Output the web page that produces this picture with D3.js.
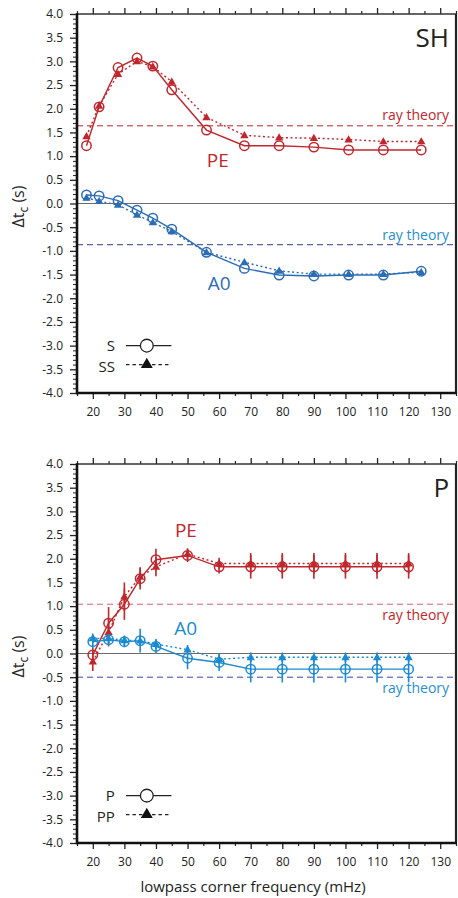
<!DOCTYPE html>
<html><head><meta charset="utf-8">
<script src="https://cdn.jsdelivr.net/npm/d3@7"></script>
<style>
html,body{margin:0;padding:0;background:#fff;}
svg{display:block;font-family:"Open Sans",sans-serif;}
</style></head>
<body>
<svg id="chart" width="458" height="898"></svg>
<script>
// ---------- data ----------
const xMajorTicks = [20,30,40,50,60,70,80,90,100,110,120,130];
const yMajorTicks = [-4,-3.5,-3,-2.5,-2,-1.5,-1,-0.5,0,0.5,1,1.5,2,2.5,3,3.5,4];

// SH panel
const shFreq   = [18,22,28,34,39,45,56,68,79,90,101,112,124];
const shPE_S   = [1.22,2.04,2.87,3.07,2.90,2.40,1.55,1.22,1.22,1.19,1.13,1.13,1.13];
const shPE_SS  = [1.42,2.06,2.73,3.00,2.89,2.57,1.82,1.44,1.39,1.38,1.35,1.31,1.31];
const shA0_S   = [0.18,0.16,0.06,-0.14,-0.31,-0.54,-1.03,-1.37,-1.51,-1.53,-1.51,-1.51,-1.43];
const shA0_SS  = [0.12,0.05,-0.03,-0.24,-0.40,-0.59,-1.03,-1.24,-1.42,-1.49,-1.49,-1.49,-1.45];
const shRayPE = 1.64, shRayA0 = -0.87;

// P panel
const pFreq      = [20,25,30,35,40,50,60,70,80,90,100,110,120];
const pPE_P      = [-0.03,0.64,1.04,1.58,1.98,2.07,1.83,1.83,1.83,1.83,1.83,1.83,1.83];
const pPE_Perr   = [0.15,0.34,0.33,0.23,0.23,0.14,0.14,0.25,0.25,0.25,0.25,0.25,0.25];
const pPE_PP     = [-0.17,0.45,1.20,1.62,1.83,2.10,1.90,1.90,1.90,1.90,1.90,1.90,1.90];
const pPE_PPerr  = [0.2,0.3,0.3,0.2,0.2,0.12,0.12,0.22,0.22,0.22,0.22,0.22,0.22];
const pA0_P      = [0.25,0.29,0.25,0.27,0.15,-0.10,-0.19,-0.33,-0.33,-0.33,-0.33,-0.33,-0.33];
const pA0_Perr   = [0.14,0.10,0.12,0.25,0.15,0.23,0.18,0.28,0.28,0.28,0.28,0.28,0.28];
const pA0_PP     = [0.32,0.32,0.28,0.27,0.20,0.08,-0.12,-0.08,-0.08,-0.08,-0.08,-0.08,-0.08];
const pA0_PPerr  = [0.1,0.1,0.1,0.1,0.1,0.1,0.1,0.1,0.1,0.1,0.1,0.1,0.1];
const pRayPE = 1.04, pRayA0 = -0.50;

// ---------- styling ----------
const RED = "#c0272d", BLUE_SH = "#2b6cb5", BLUE_P = "#1b8ad0", LBLUE = "#1f8fd4";

const svg = d3.select("#chart");
const X0 = 77, X1 = 456, PH = 379;

function drawPanel(top, cfg) {
  const x = d3.scaleLinear().domain([15,135]).range([X0,X1]);
  const y = d3.scaleLinear().domain([-4,4]).range([top+PH, top]);
  const g = svg.append("g");

  // zero line
  g.append("line").attr("x1",X0).attr("x2",X1).attr("y1",y(0)).attr("y2",y(0))
    .attr("stroke","#6d6d6d").attr("stroke-width",1.2);

  // ray theory lines
  cfg.rays.forEach(r => {
    g.append("line").attr("x1",X0).attr("x2",X1).attr("y1",y(r.v)).attr("y2",y(r.v))
      .attr("stroke",r.color).attr("stroke-width",1).attr("stroke-dasharray","6,4");
    g.append("text").attr("x",x(132.8)).attr("y",y(r.labelY)).attr("text-anchor","end")
      .attr("font-size",14).attr("fill",r.labelColor).text("ray theory");
  });

  const line = d3.line().x(d=>x(d[0])).y(d=>y(d[1]));
  const tri = d3.symbol().type(d3.symbolTriangle).size(30);

  cfg.series.forEach(s => {
    const pts = cfg.freq.map((f,i)=>[f,s.vals[i]]);
    g.append("path").datum(pts).attr("d",line).attr("fill","none")
      .attr("stroke",s.color).attr("stroke-width",1.4)
      .attr("stroke-dasharray", s.dotted ? "2,2.6" : null);
    if (s.err) {
      g.selectAll(null).data(pts).join("line")
        .attr("x1",d=>x(d[0])).attr("x2",d=>x(d[0]))
        .attr("y1",(d,i)=>y(d[1]-s.err[i])).attr("y2",(d,i)=>y(d[1]+s.err[i]))
        .attr("stroke",s.color).attr("stroke-width",1.6);
    }
  });
  cfg.series.forEach(s => {
    const pts = cfg.freq.map((f,i)=>[f,s.vals[i]]);
    if (s.dotted) {
      g.selectAll(null).data(pts).join("path").attr("d",tri)
        .attr("transform",d=>`translate(${x(d[0])},${y(d[1])+0.5})`).attr("fill",s.color);
    } else {
      g.selectAll(null).data(pts).join("circle")
        .attr("cx",d=>x(d[0])).attr("cy",d=>y(d[1])).attr("r",4.7)
        .attr("fill","none").attr("stroke",s.color).attr("stroke-width",1.5);
    }
  });

  // axes
  const xMinor = d3.range(15,136,5).filter(v=>v%10!==0);
  const yMinor = d3.range(-40,41,1).map(v=>v/10).filter(v=>Math.abs(v*2-Math.round(v*2))>1e-6);

  g.append("g").attr("transform",`translate(0,${top+PH})`)
    .call(d3.axisBottom(x).tickValues(xMajorTicks).tickSize(6).tickPadding(8).tickFormat(d=>d))
    .call(a=>{a.select(".domain").remove(); a.selectAll("line").attr("stroke","#222").attr("stroke-width",1.3);
      a.selectAll("text").attr("font-size",12).attr("fill","#222").attr("font-family","Open Sans");});
  g.append("g").attr("transform",`translate(0,${top+PH})`)
    .call(d3.axisBottom(x).tickValues(xMinor).tickSize(3).tickFormat(""))
    .call(a=>{a.select(".domain").remove(); a.selectAll("line").attr("stroke","#222").attr("stroke-width",1.2);});
  g.append("g").attr("transform",`translate(0,${top})`)
    .call(d3.axisTop(x).tickValues(xMajorTicks).tickSize(6).tickFormat(""))
    .call(a=>{a.select(".domain").remove(); a.selectAll("line").attr("stroke","#222").attr("stroke-width",1.3);});
  g.append("g").attr("transform",`translate(0,${top})`)
    .call(d3.axisTop(x).tickValues(xMinor).tickSize(3).tickFormat(""))
    .call(a=>{a.select(".domain").remove(); a.selectAll("line").attr("stroke","#222").attr("stroke-width",1.2);});
  g.append("g").attr("transform",`translate(${X0},0)`)
    .call(d3.axisLeft(y).tickValues(yMajorTicks).tickSize(7).tickPadding(7).tickFormat(d=>d.toFixed(1).replace("-0.0","0.0")))
    .call(a=>{a.select(".domain").remove(); a.selectAll("line").attr("stroke","#222").attr("stroke-width",1.3);
      a.selectAll("text").attr("font-size",12).attr("fill","#222").attr("font-family","Open Sans");});
  g.append("g").attr("transform",`translate(${X0},0)`)
    .call(d3.axisLeft(y).tickValues(yMinor).tickSize(4).tickFormat(""))
    .call(a=>{a.select(".domain").remove(); a.selectAll("line").attr("stroke","#222").attr("stroke-width",1);});

  // frame
  g.append("line").attr("x1",X0).attr("x2",X1).attr("y1",top).attr("y2",top).attr("stroke","#333").attr("stroke-width",1.4);
  g.append("line").attr("x1",X1).attr("x2",X1).attr("y1",top).attr("y2",top+PH).attr("stroke","#222").attr("stroke-width",2.2);
  g.append("line").attr("x1",X0).attr("x2",X0).attr("y1",top-0.7).attr("y2",top+PH+1.2).attr("stroke","#111").attr("stroke-width",2.6);
  g.append("line").attr("x1",X0).attr("x2",X1+1).attr("y1",top+PH).attr("y2",top+PH).attr("stroke","#111").attr("stroke-width",2.6);

  // labels
  g.append("text").attr("x",x(132.8)).attr("y",y(3.3)).attr("text-anchor","end")
    .attr("font-size",26).attr("fill","#222").text(cfg.title);
  cfg.labels.forEach(l=>{
    g.append("text").attr("x",x(l.x)).attr("y",y(l.y)).attr("font-size",19)
      .attr("fill",l.color).text(l.text);
  });

  // legend
  const lx1 = x(30.5), lx2 = x(44.9), lm = x(37.1);
  g.append("text").attr("x",x(27)).attr("y",y(-3.12)).attr("text-anchor","end").attr("font-size",15).attr("fill","#222").text(cfg.leg[0]);
  g.append("line").attr("x1",lx1).attr("x2",lx2).attr("y1",y(-3.0)).attr("y2",y(-3.0)).attr("stroke","#222").attr("stroke-width",1.2);
  g.append("circle").attr("cx",lm).attr("cy",y(-3.0)).attr("r",6.4).attr("fill","#fff").attr("stroke","#222").attr("stroke-width",1.3);
  g.append("text").attr("x",x(27)).attr("y",y(-3.55)).attr("text-anchor","end").attr("font-size",15).attr("fill","#222").text(cfg.leg[1]);
  g.append("line").attr("x1",lx1).attr("x2",lx2).attr("y1",y(-3.4)).attr("y2",y(-3.4)).attr("stroke","#222").attr("stroke-width",1.2).attr("stroke-dasharray","3.5,3");
  g.append("path").attr("d",d3.symbol().type(d3.symbolTriangle).size(62)).attr("transform",`translate(${lm},${y(-3.4)})`).attr("fill","#111");

  // y title
  const yt = g.append("text").attr("transform",`translate(24,${top+PH/2+3}) rotate(-90)`)
    .attr("text-anchor","middle").attr("font-size",16).attr("fill","#222");
  yt.append("tspan").text("\u0394t");
  yt.append("tspan").attr("font-size",12).attr("dy",4).text("c");
  yt.append("tspan").attr("dy",-4).text(" (s)");
}

drawPanel(14, {
  title:"SH", freq: shFreq,
  rays:[{v:shRayPE,color:"#b8272d",labelY:1.76,labelColor:RED},
        {v:shRayA0,color:"#2e3e92",labelY:-0.77,labelColor:LBLUE}],
  series:[{vals:shPE_S,color:RED},{vals:shPE_SS,color:RED,dotted:true},
          {vals:shA0_S,color:BLUE_SH},{vals:shA0_SS,color:BLUE_SH,dotted:true}],
  labels:[{text:"PE",x:56.1,y:0.77,color:RED},{text:"A0",x:56.4,y:-1.82,color:BLUE_SH}],
  leg:["S","SS"]
});
drawPanel(464, {
  title:"P", freq: pFreq,
  rays:[{v:pRayPE,color:"#d0646a",labelY:0.71,labelColor:RED},
        {v:pRayA0,color:"#3446a8",labelY:-0.84,labelColor:LBLUE}],
  series:[{vals:pPE_P,err:pPE_Perr,color:RED},{vals:pPE_PP,err:pPE_PPerr,color:RED,dotted:true},
          {vals:pA0_P,err:pA0_Perr,color:BLUE_P},{vals:pA0_PP,err:pA0_PPerr,color:BLUE_P,dotted:true}],
  labels:[{text:"PE",x:46,y:2.45,color:RED},{text:"A0",x:45.8,y:0.39,color:BLUE_P}],
  leg:["P","PP"]
});

svg.append("text").attr("x",253).attr("y",892).attr("text-anchor","middle")
  .attr("font-size",15).attr("fill","#222").text("lowpass corner frequency (mHz)");
</script>
</body></html>
